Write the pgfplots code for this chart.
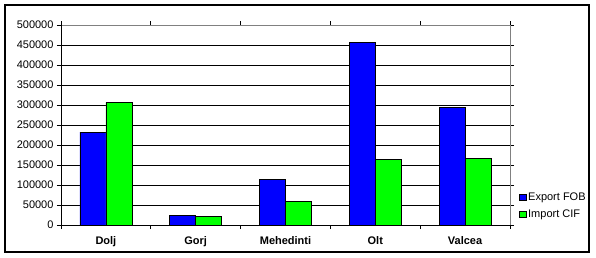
\documentclass[border=0pt]{standalone}
\usepackage{pgfplots}
\pgfplotsset{compat=1.18}
\usepackage{fontspec}
\setmainfont{Liberation Sans}
\definecolor{expblue}{RGB}{0,0,255}
\definecolor{impgreen}{RGB}{0,255,0}
\begin{document}
\begin{tikzpicture}
\useasboundingbox (0bp,0bp) rectangle (596bp,258bp);
\draw[black, line width=1.2bp] (5bp,6bp) rectangle (589bp,253bp);
\begin{axis}[
  at={(61bp,33bp)}, anchor=south west,
  scale only axis, width=449bp, height=200bp,
  xmin=-0.5, xmax=4.5, ymin=0, ymax=500000,
  ybar=0pt, bar width=26bp,
  axis line style={draw=none},
  xtick={0,1,2,3,4},
  xticklabels={Dolj,Gorj,Mehedinti,Olt,Valcea},
  minor xtick={-0.5,0.5,1.5,2.5,3.5,4.5},
  major x tick style={draw=none},
  minor x tick style={black, line width=0.8bp},
  minor tick length=4bp,
  ytick={0,50000,...,500000},
  y tick style={black, line width=0.8bp},
  major tick length=4bp,
  tick align=outside,
  ymajorgrids, major grid style={black, line width=1bp},
  scaled y ticks=false,
  yticklabel={\pgfmathprintnumber[fixed,precision=0,1000 sep={},assume math mode=true]{\tick}},
  yticklabel style={font=\fontsize{11bp}{13bp}\selectfont},
  xticklabel style={font=\fontsize{11bp}{13bp}\selectfont\bfseries, yshift=-4bp},
  legend style={draw=none, fill=none, at={(1.02,0.02)}, anchor=south west,
    font=\fontsize{11bp}{13bp}\selectfont, row sep=4bp, inner sep=0pt,
    cells={anchor=west}},
  legend image code/.code={\draw[#1, line width=0.6bp] (0bp,-3.2bp) rectangle (6.4bp,3.2bp);},
  clip=false,
]
\addplot[fill=expblue, draw=black, line width=0.8bp] coordinates {(0,232000) (1,23500) (2,113500) (3,456000) (4,294500)};
\addplot[fill=impgreen, draw=black, line width=0.8bp] coordinates {(0,306500) (1,21000) (2,59000) (3,163500) (4,166000)};
\legend{Export FOB, Import CIF}
\draw[gray, line width=1bp] (rel axis cs:0,1) -- (rel axis cs:1,1) -- (rel axis cs:1,0);
\draw[black, line width=1bp] (rel axis cs:0,1) -- (rel axis cs:0,0) -- (rel axis cs:1,0);
\end{axis}
\end{tikzpicture}
\end{document}
